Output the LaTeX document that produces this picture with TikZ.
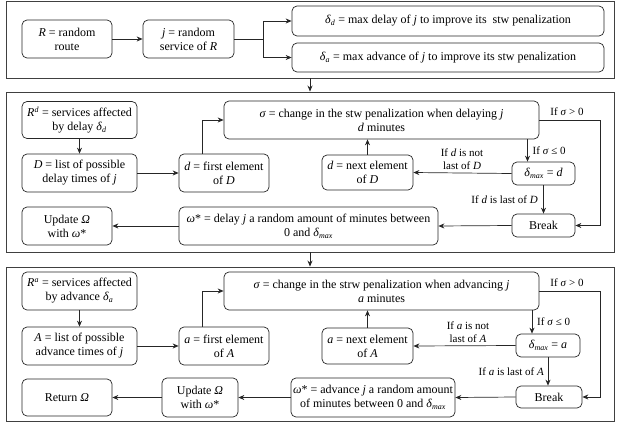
\documentclass[tikz,border=0pt]{standalone}
\usepackage{fontspec}
\setmainfont{Liberation Serif}
\usetikzlibrary{arrows.meta,calc}
\newcommand{\isub}[1]{\textsubscript{\itshape #1}}
\newcommand{\isup}[1]{\textsuperscript{\itshape #1}}
\begin{document}
\begin{tikzpicture}[x=1pt,y=-1pt,
  box/.style={draw=black!85, rounded corners=5pt, align=center, inner sep=1pt, line width=0.7pt, font=\fontsize{12}{14}\selectfont},
  panel/.style={draw=black!75, line width=0.9pt, inner sep=0pt},
  lbl/.style={font=\fontsize{11}{13}\selectfont, inner sep=1pt, align=center},
  arr/.style={draw=black!85, -{Stealth[length=6pt,width=5pt]}, line width=0.7pt},
  ln/.style={draw=black!85, line width=0.7pt}]
\useasboundingbox (0,0) rectangle (621,423);
\coordinate (rc) at (600,0);
% panels
\node[panel, minimum width=608pt, minimum height=77pt] (P1) at (310,39.5) {};
\node[panel, minimum width=608pt, minimum height=160pt] (P2) at (310,172) {};
\node[panel, minimum width=608pt, minimum height=154pt] (P3) at (310,344) {};
\draw[arr] (P1.south) -- (P2.north);
\draw[arr] (P2.south) -- (P3.north);
% ---------- panel 1
\node[box, minimum width=90pt, minimum height=38pt] (R) at (67,39) {\textit{R} = random\\route};
\node[box, minimum width=91pt, minimum height=38pt] (J) at (188.5,39) {\textit{j} = random\\service of \textit{R}};
\node[box, minimum width=312pt, minimum height=30pt] (DD) at (448,21) {\textit{δ}\isub{d} = max delay of \textit{j} to improve its~ stw penalization};
\node[box, minimum width=312pt, minimum height=29pt] (DA) at (448,57.5) {\textit{δ}\isub{a} = max advance of \textit{j} to improve its stw penalization};
\draw[arr] (R) -- (J);
\coordinate (br) at ($(J.east)+(29,0)$);
\draw[ln] (J.east) -- (br);
\draw[arr] (br) |- (DD.west);
\draw[arr] (br) |- (DA.west);
% ---------- panel 2
\node[box, minimum width=115pt, minimum height=37pt] (Rd) at (79.5,120) {\textit{R}\isup{d} = services affected\\by delay \textit{δ}\isub{d}};
\node[box, minimum width=115pt, minimum height=38pt] (D) at (79.5,173) {\textit{D} = list of possible\\delay times of \textit{j}};
\node[box, minimum width=90pt, minimum height=38pt] (df) at (224,173) {\textit{d} = first element\\of \textit{D}};
\node[box, minimum width=315pt, minimum height=38pt] (sig) at (381.5,120) {\textit{σ} = change in the stw penalization when delaying \textit{j}\\\textit{d} minutes};
\node[box, minimum width=91pt, minimum height=35pt] (dn) at (367.5,172.5) {\textit{d} = next element\\of \textit{D}};
\node[box, minimum width=63pt, minimum height=23pt] (dmax) at (543.5,173.5) {\textit{δ}\isub{max} = \textit{d}};
\node[box, minimum width=63pt, minimum height=23pt] (brk) at (543.5,225.5) {Break};
\node[box, minimum width=259pt, minimum height=38pt] (om) at (308.5,226) {\textit{ω}* = delay \textit{j} a random amount of minutes between\\0 and \textit{δ}\isub{max}};
\node[box, minimum width=90pt, minimum height=38pt] (upd) at (67,226) {Update \textit{Ω}\\with \textit{ω}*};
\draw[arr] (Rd) -- (D);
\draw[arr] (D) -- (df);
\coordinate (dfu) at ($(df.north)+(-22,0)$);
\draw[arr] (dfu) |- (sig.west);
\coordinate (smt) at ($(dmax.north)+(-16,0)$);
\draw[arr] (sig.south -| smt) -- (smt);
\node[lbl, anchor=west] (l1) at ($(sig.south -| smt)+(4,11)$) {If \textit{σ} ≤ 0};
\draw[arr] (dmax.west) -- (dn.east);
\node[lbl, anchor=south] (l2) at (462,171) {If \textit{d} is not\\last of \textit{D}};
\draw[arr] (dmax.south) -- (brk.north);
\node[lbl, anchor=east] (l3) at (539,200) {If \textit{d} is last of \textit{D}};
\draw[arr] (dn.north) -- (dn.north |- sig.south);
\draw[arr] (brk.west) -- (om.east);
\draw[arr] (om.west) -- (upd.east);
\draw[arr] (sig.east) -- (sig.east -| rc) |- (brk.east);
\node[lbl] (l4) at (567,112) {If \textit{σ} > 0};
% ---------- panel 3
\node[box, minimum width=115pt, minimum height=38pt] (Ra) at (79.5,291) {\textit{R}\isup{a} = services affected\\by advance \textit{δ}\isub{a}};
\node[box, minimum width=115pt, minimum height=38pt] (A) at (79.5,346) {\textit{A} = list of possible\\advance times of \textit{j}};
\node[box, minimum width=90pt, minimum height=38pt] (af) at (224,346) {\textit{a} = first element\\of \textit{A}};
\node[box, minimum width=315pt, minimum height=38pt] (sigb) at (381.5,291) {\textit{σ} = change in the strw penalization when advancing \textit{j}\\\textit{a} minutes};
\node[box, minimum width=91pt, minimum height=36pt] (an) at (367.5,346) {\textit{a} = next element\\of \textit{A}};
\node[box, minimum width=64pt, minimum height=23pt] (amax) at (548,345.5) {\textit{δ}\isub{max} = \textit{a}};
\node[box, minimum width=66pt, minimum height=22pt] (brkb) at (549,397) {Break};
\node[box, minimum width=164pt, minimum height=39pt] (omb) at (373,397.5) {\textit{ω}* = advance \textit{j} a random amount\\of minutes between 0 and \textit{δ}\isub{max}};
\node[box, minimum width=76pt, minimum height=39pt] (updb) at (200,397.5) {Update \textit{Ω}\\with \textit{ω}*};
\node[box, minimum width=90pt, minimum height=37pt] (ret) at (67,397.5) {Return \textit{Ω}};
\draw[arr] (Ra) -- (A);
\draw[arr] (A) -- (af);
\coordinate (afu) at ($(af.north)+(-22,0)$);
\draw[arr] (afu) |- (sigb.west);
\coordinate (smtb) at ($(amax.north)+(-16,0)$);
\draw[arr] (sigb.south -| smtb) -- (smtb);
\node[lbl, anchor=west] (m1) at ($(sigb.south -| smtb)+(4,11)$) {If \textit{σ} ≤ 0};
\draw[arr] (amax.west) -- (an.east);
\node[lbl, anchor=south] (m2) at (468,344) {If \textit{a} is not\\last of \textit{A}};
\draw[arr] (amax.south) -- (amax.south |- brkb.north);
\node[lbl, anchor=east] (m3) at (545,372) {If \textit{a} is last of \textit{A}};
\draw[arr] (an.north) -- (an.north |- sigb.south);
\draw[arr] (brkb.west) -- (omb.east);
\draw[arr] (omb.west) -- (updb.east);
\draw[arr] (updb.west) -- (ret.east);
\draw[arr] (sigb.east) -- (sigb.east -| rc) |- (brkb.east);
\node[lbl] (m4) at (567,283) {If \textit{σ} > 0};
\end{tikzpicture}
\end{document}
